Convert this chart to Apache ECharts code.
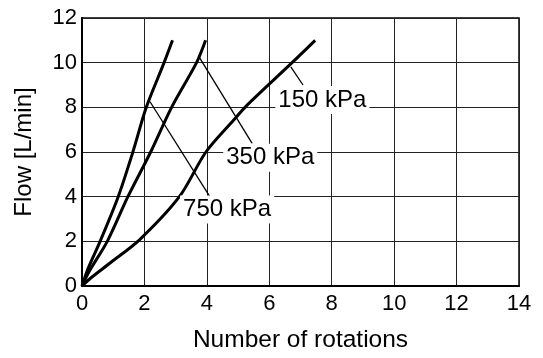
<!DOCTYPE html>
<html>
<head>
<meta charset="utf-8">
<script src="https://cdn.jsdelivr.net/npm/echarts@6/dist/echarts.min.js"></script>
<style>
html,body{margin:0;padding:0;background:#fff;}
#c{width:543px;height:358px;}
</style>
</head>
<body>
<div id="c"></div>
<script>
// Data
const curve150 = [[0,0],[0.3,0.38],[0.91,1.04],[1.85,2.08],[3.12,4],[3.97,6],[4.86,7.43],[5.29,8.1],[6.73,10],[7.47,11]];
const curve350 = [[0,0],[0.25,0.7],[0.81,2],[1.47,4],[2.2,6],[2.87,8],[3.67,10],[3.96,11]];
const curve750 = [[0,0],[0.2,0.8],[0.58,2],[1.16,4],[1.63,6],[2.06,8],[2.63,10],[2.9,11]];
const leader150 = [[6.69,9.81],[7.08,9.0]];
const leader350 = [[3.75,10.26],[5.45,6.39]];
const leader750 = [[2.18,8.25],[4.09,4.01]];
const labelNames = ['150 kPa','350 kPa','750 kPa'];
const labelPos = [[7.70,8.33],[6.03,5.74],[4.65,3.42]];
const xName = 'Number of rotations';
const yName = 'Flow [L/min]';

const FONT = '"Liberation Sans", Arial, sans-serif';
const chart = echarts.init(document.getElementById('c'), null, {renderer:'canvas'});

function curve(data){
  return {type:'line', data:data, symbol:'none', smooth:0.3, z:3,
    lineStyle:{color:'#000', width:3}, silent:true, animation:false};
}
function leader(data){
  return {type:'line', data:data, symbol:'none', z:4,
    lineStyle:{color:'#000', width:1.3}, silent:true, animation:false};
}

chart.setOption({
  animation:false,
  backgroundColor:'#fff',
  grid:{left:82, right:24, top:18, bottom:71, show:true, borderColor:'#000', borderWidth:1.5, backgroundColor:'transparent'},
  xAxis:{type:'value', min:0, max:14, interval:2,
    name:xName, nameLocation:'middle', nameGap:42,
    nameTextStyle:{fontFamily:FONT, fontSize:24.5, color:'#000'},
    axisLine:{show:true, onZero:false, lineStyle:{color:'#000', width:2}},
    axisTick:{show:false},
    axisLabel:{fontFamily:FONT, fontSize:22, color:'#000', margin:7},
    splitLine:{show:true, lineStyle:{color:'#222', width:1}}
  },
  yAxis:{type:'value', min:0, max:12, interval:2,
    name:yName, nameLocation:'middle', nameGap:46,
    nameTextStyle:{fontFamily:FONT, fontSize:24, color:'#000'},
    axisLine:{show:true, onZero:false, lineStyle:{color:'#000', width:2}},
    axisTick:{show:false},
    axisLabel:{fontFamily:FONT, fontSize:22, color:'#000', margin:5},
    splitLine:{show:true, lineStyle:{color:'#222', width:1}}
  },
  series:[
    curve(curve150), curve(curve350), curve(curve750),
    leader(leader150), leader(leader350), leader(leader750),
    {type:'scatter', z:5, symbolSize:0, itemStyle:{color:'#fff', opacity:1},
     data:labelPos.map((p,i)=>({value:p, name:labelNames[i]})),
     label:{show:true, position:'inside', formatter:'{b}', fontFamily:FONT, fontSize:24, color:'#000',
       opacity:1, textBorderWidth:0, backgroundColor:'#fff', padding:[2,3]},
     emphasis:{disabled:true},
     silent:true, animation:false}
  ]
});
</script>
</body>
</html>
